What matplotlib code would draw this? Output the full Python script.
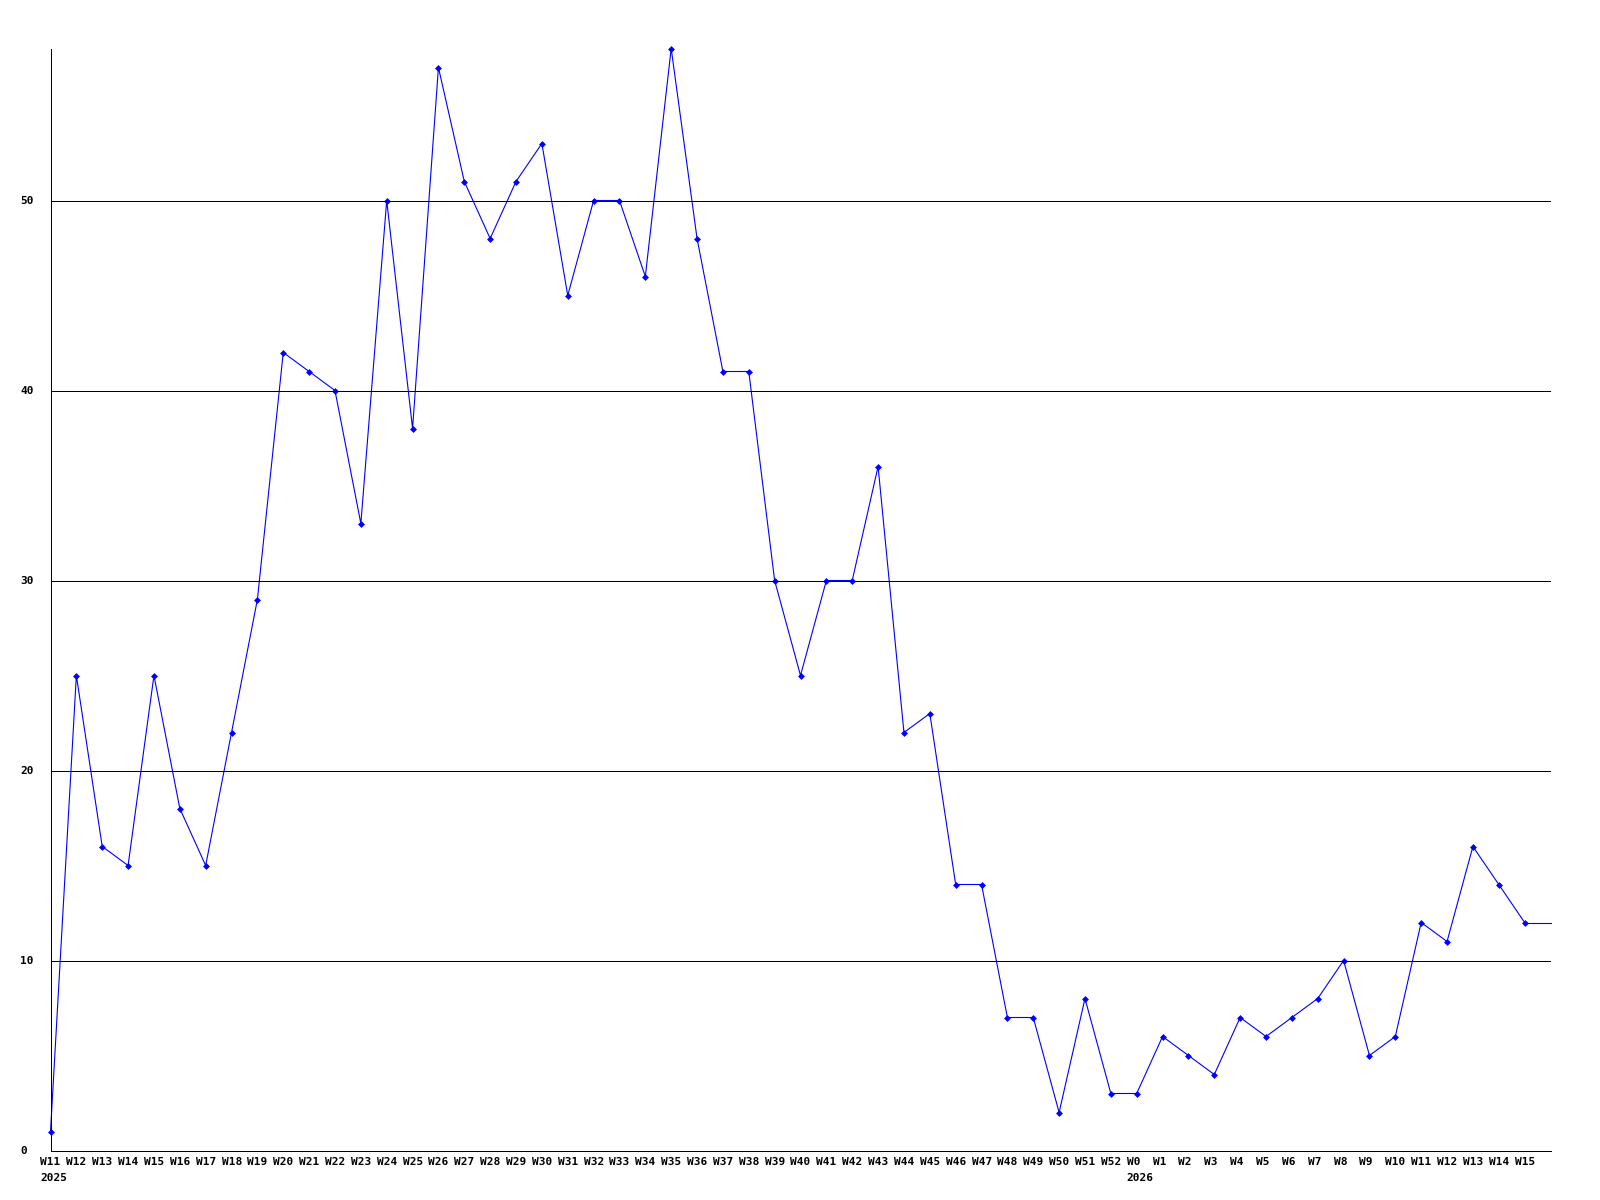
import matplotlib
matplotlib.use("Agg")
import matplotlib.pyplot as plt
import matplotlib.transforms as mtransforms
import numpy as np

weeks = (["W%d" % w for w in range(11, 53)] + ["W0"] + ["W%d" % w for w in range(1, 16)])
values = [1, 25, 16, 15, 25, 18, 15, 22, 29, 42, 41, 40, 33, 50, 38, 57, 51, 48, 51, 53,
          45, 50, 50, 46, 58, 48, 41, 41, 30, 25, 30, 30, 36, 22, 23, 14, 14, 7, 7, 2,
          8, 3,
          3, 6, 5, 4, 7, 6, 7, 8, 10, 5, 6, 12, 11, 16, 14, 12]
year_labels = ["2025", "2026"]
year_starts = ["W11", "W0"]
y_ticks = [0, 10, 20, 30, 40, 50]

FS = 8
font = dict(family="DejaVu Sans Mono", weight="bold", size=FS)
LW = 0.6
DLW = 0.8

fig = plt.figure(figsize=(16, 12), dpi=100)
ax = fig.add_axes([50.5/1600, 49.5/1200, 1500/1600, 1102/1200])

x = np.arange(len(values))
ax.plot(x, values, color="#0000ff", lw=DLW, marker="D", ms=3, mew=0.5,
        mfc="#0000ff", mec="#0000ff", zorder=2, clip_on=False)
# current value carried to the right edge of the plot
ax.plot([x[-1], len(values)], [values[-1], values[-1]], color="#0000ff", lw=DLW,
        zorder=2, clip_on=False)

for v in y_ticks[1:]:
    ax.axhline(v, color="black", lw=LW, zorder=3, antialiased=False)

ax.set_xlim(0, len(values))
ax.set_ylim(0, max(values))

shift = mtransforms.ScaledTranslation(-0.10, 0, fig.dpi_scale_trans)

ax.xaxis.remove_overlapping_locs = False
ax.set_xticks(x)
ax.set_xticklabels(weeks, fontdict=font, ha="left")
ax.tick_params(axis="x", which="major", length=0, pad=5)
for lab in ax.xaxis.get_majorticklabels():
    lab.set_transform(lab.get_transform() + shift)

# year labels as minor ticks
year_pos = [weeks.index(w) for w in year_starts]
ax.set_xticks(year_pos, minor=True)
ax.set_xticklabels(year_labels, minor=True, fontdict=font, ha="left")
ax.tick_params(axis="x", which="minor", length=0, pad=16)
for lab in ax.xaxis.get_minorticklabels():
    lab.set_transform(lab.get_transform() + shift)

ax.set_yticks(y_ticks)
ax.set_yticklabels([str(v) for v in y_ticks], fontdict=font, ha="left")
ax.tick_params(axis="y", length=0, pad=22)

for s in ["top", "right"]:
    ax.spines[s].set_visible(False)
for s in ["left", "bottom"]:
    ax.spines[s].set_color("black")
    ax.spines[s].set_linewidth(LW)
    ax.spines[s].set_zorder(4)
    ax.spines[s].set_antialiased(False)

fig.savefig("out.png", dpi=100)
